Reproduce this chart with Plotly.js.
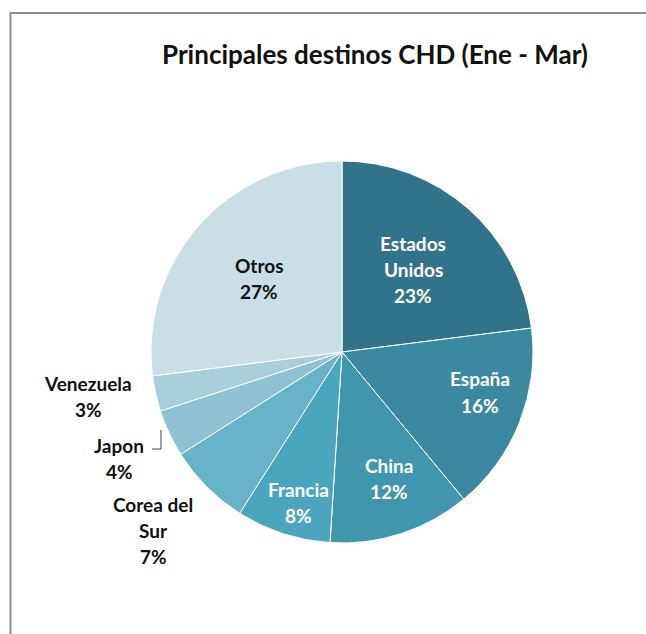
<!DOCTYPE html>
<html>
<head>
<meta charset="utf-8">
<script src="https://cdn.plot.ly/plotly-3.0.1.min.js"></script>
<style>html,body{margin:0;padding:0;background:#fff;}#chart{width:646px;height:634px;}</style>
</head>
<body>
<div id="chart"></div>
<script>
// Data
var labels = ['Estados Unidos', 'España', 'China', 'Francia', 'Corea del Sur', 'Japon', 'Venezuela', 'Otros'];
var values = [23, 16, 12, 8, 7, 4, 3, 27];
var colors = ['#317489', '#3A89A0', '#3F96AD', '#4AA6BF', '#67B3C8', '#8FC3D3', '#A8CFDB', '#C8DFE6'];
var displayLabels = ['Estados\nUnidos', 'España', 'China', 'Francia', 'Corea del\nSur', 'Japon', 'Venezuela', 'Otros'];

// Label placement (pixel centers of first line) and colours
var labelPos = [[413, 243], [480, 379], [389, 465], [298, 489], [153, 504], [119, 445], [88, 383], [259, 265]];
var labelColor = ['#ffffff', '#ffffff', '#ffffff', '#ffffff', '#111111', '#111111', '#111111', '#111111'];

var W = 646, H = 634;
var FONT = 'Lato, "Open Sans", sans-serif';

var annotations = [];
for (var i = 0; i < labels.length; i++) {
  var lines = displayLabels[i].split('\n').concat([values[i] + '%']);
  for (var j = 0; j < lines.length; j++) {
    annotations.push({
      xref: 'paper', yref: 'paper',
      x: labelPos[i][0] / W, y: 1 - (labelPos[i][1] + j * 26) / H,
      xanchor: 'center', yanchor: 'middle',
      text: '<b>' + lines[j] + '</b>', showarrow: false,
      font: {family: FONT, size: 19, color: labelColor[i]}
    });
  }
}

var cx = 342, cy = 352, r = 191;
var trace = {
  type: 'pie',
  labels: labels,
  values: values,
  sort: false,
  direction: 'clockwise',
  rotation: 0,
  textinfo: 'none',
  hoverinfo: 'label+percent',
  marker: {colors: colors, line: {color: '#ffffff', width: 1}},
  domain: {x: [(cx - r) / W, (cx + r) / W], y: [(H - cy - r) / H, (H - cy + r) / H]},
  showlegend: false
};

var layout = {
  width: W, height: H,
  margin: {l: 0, r: 0, t: 0, b: 0},
  paper_bgcolor: '#ffffff',
  title: {
    text: '<b>Principales destinos CHD (Ene - Mar)</b>',
    font: {family: FONT, size: 26, color: '#111111'},
    x: 375 / W, xref: 'paper', xanchor: 'center',
    y: 1 - 55 / H, yref: 'container', yanchor: 'middle'
  },
  annotations: annotations,
  shapes: [
    {type: 'path', xref: 'paper', yref: 'paper',
     path: 'M ' + (10.5 / W) + ' 0 L ' + (10.5 / W) + ' ' + (1 - 13 / H) + ' L 1 ' + (1 - 13 / H),
     line: {color: '#8c8c8c', width: 2}},
    {type: 'path', xref: 'paper', yref: 'paper',
     path: 'M ' + (152 / W) + ' ' + (1 - 449 / H) + ' L ' + (161 / W) + ' ' + (1 - 449 / H) + ' L ' + (161 / W) + ' ' + (1 - 430 / H),
     line: {color: '#404040', width: 1}}
  ]
};

Plotly.newPlot('chart', [trace], layout, {displayModeBar: false, staticPlot: true});
</script>
</body>
</html>
